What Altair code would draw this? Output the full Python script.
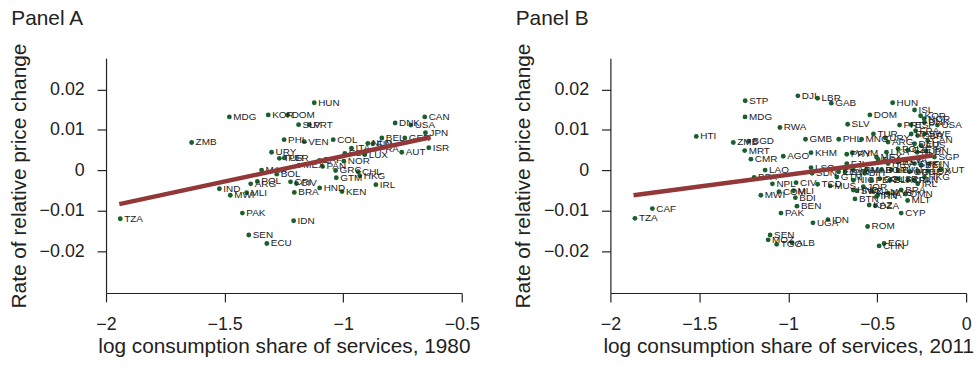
import altair as alt
import pandas as pd

FONT = "Liberation Sans"
GREEN = "#1b5e30"
RED = "#933838"

# ---------------- Panel A (1980) ----------------
a_code = ["TZA", "ZMB", "MDG", "KOR", "DOM", "HUN", "SLV", "PRT", "PHL", "VEN",
          "COL", "URY", "TUR", "PER", "MAR", "BOL", "MEX", "PAN", "ZAF", "ARG",
          "POL", "IND", "MWI", "MLI", "PAK", "SEN", "ECU", "CRI", "CIV", "BRA",
          "IDN", "HND", "KEN", "GTM", "GRC", "CHL", "HKG", "NOR", "LUX", "ITA",
          "ESP", "NLD", "FIN", "BEL", "FRA", "GER", "AUT", "ISR", "JPN", "CAN",
          "USA", "DNK", "IRL"]
a_x = [-1.940, -1.639, -1.480, -1.316, -1.234, -1.122, -1.188, -1.143, -1.249, -1.164,
       -1.042, -1.302, -1.269, -1.248, -1.344, -1.280, -1.185, -1.087, -1.100, -1.390,
       -1.362, -1.522, -1.476, -1.407, -1.425, -1.398, -1.322, -1.222, -1.197, -1.206,
       -1.209, -1.099, -1.005, -1.029, -1.032, -0.937, -0.930, -0.997, -0.909, -0.965,
       -0.993, -0.896, -0.875, -0.837, -0.865, -0.740, -0.753, -0.639, -0.653, -0.656,
       -0.715, -0.781, -0.862]
a_y = [-0.0119, 0.0069, 0.0132, 0.0137, 0.0137, 0.0167, 0.0113, 0.0113, 0.0076, 0.0071,
       0.0076, 0.0045, 0.0030, 0.0031, 0.0001, -0.0009, 0.0013, 0.0010, 0.0025, -0.0033,
       -0.0027, -0.0045, -0.0061, -0.0055, -0.0105, -0.0159, -0.0180, -0.0028, -0.0032, -0.0054,
       -0.0124, -0.0043, -0.0052, -0.0018, 0.0000, -0.0003, -0.0013, 0.0023, 0.0039, 0.0055,
       0.0042, 0.0067, 0.0066, 0.0080, 0.0052, 0.0080, 0.0045, 0.0056, 0.0093, 0.0132,
       0.0112, 0.0117, -0.0035]
a_fit_x = [-1.944, -0.631]
a_fit_y = [-0.0083, 0.0082]

# ---------------- Panel B (2011) ----------------
b_code = ["TZA", "CAF", "HTI", "ZMB", "BGD", "STP", "MDG", "MRT", "CMR", "LAO",
          "BFA", "NPL", "MWI", "COM", "MLI", "BDI", "BEN", "PAK", "SEN", "MOZ",
          "TGO", "ALB", "UGA", "IDN", "CIV", "AGO", "RWA", "DJI", "LBR", "GAB",
          "KHM", "GMB", "LSO", "SDN", "TCD", "MUS", "GTM", "FJI", "PRY", "VNM",
          "PHL", "SLV", "MNG", "TUR", "DOM", "HUN", "ISL", "KOR", "NOR", "PRT",
          "USA", "ESP", "MAR", "MEX", "LKA", "SGP", "HKG", "IRL", "AUT", "BRA",
          "OMN", "MLT", "CYP", "THA", "BTN", "DZA", "KAZ", "ROM", "ECU", "CHN",
          "DNK", "FRA", "ITA", "GBR", "SWE", "URY", "ARG", "POL", "DEU", "AUS",
          "CAN", "CZE", "NLD", "JPN", "BOL", "HRV", "EST", "LVA", "SVK", "BEL",
          "FIN", "BGR", "LTU", "SVN", "GRC", "CHE", "LUX", "PER", "COL", "BLR",
          "ISR", "CRI", "PAN", "NIC", "HND", "JOR", "MYS", "IRN", "EGY", "TUN",
          "ARM", "BIH", "SWZ", "NAM"]
b_x = [-1.862, -1.764, -1.517, -1.309, -1.223, -1.242, -1.243, -1.245, -1.210, -1.130,
       -1.192, -1.089, -1.154, -1.052, -0.970, -0.960, -0.951, -1.041, -1.102, -1.113,
       -1.065, -0.978, -0.861, -0.777, -0.956, -1.028, -1.047, -0.946, -0.835, -0.758,
       -0.872, -0.903, -0.872, -0.866, -0.835, -0.764, -0.727, -0.671, -0.671, -0.640,
       -0.716, -0.666, -0.588, -0.521, -0.541, -0.413, -0.290, -0.256, -0.236, -0.374,
       -0.161, -0.309, -0.560, -0.504, -0.448, -0.178, -0.234, -0.272, -0.142, -0.365,
       -0.340, -0.329, -0.365, -0.496, -0.625, -0.510, -0.545, -0.554, -0.461, -0.489,
       -0.234, -0.284, -0.309, -0.272, -0.234, -0.454, -0.439, -0.383, -0.290, -0.253,
       -0.216, -0.327, -0.275, -0.225, -0.495, -0.439, -0.383, -0.337, -0.290, -0.253,
       -0.206, -0.476, -0.420, -0.383, -0.318, -0.272, -0.216, -0.532, -0.486, -0.429,
       -0.383, -0.327, -0.290, -0.634, -0.634, -0.578, -0.439, -0.504, -0.717, -0.680,
       -0.634, -0.570, -0.615, -0.528]
b_y = [-0.0118, -0.0094, 0.0084, 0.0069, 0.0072, 0.0172, 0.0132, 0.0049, 0.0028, 0.0001,
       -0.0017, -0.0033, -0.0061, -0.0052, -0.0050, -0.0067, -0.0088, -0.0105, -0.0159, -0.0171,
       -0.0182, -0.0178, -0.0129, -0.0121, -0.0030, 0.0035, 0.0106, 0.0184, 0.0178, 0.0166,
       0.0044, 0.0077, 0.0007, -0.0007, -0.0034, -0.0038, -0.0016, 0.0017, 0.0040, 0.0044,
       0.0077, 0.0114, 0.0077, 0.0090, 0.0137, 0.0167, 0.0149, 0.0135, 0.0128, 0.0112,
       0.0112, 0.0113, 0.0002, 0.0033, 0.0045, 0.0033, -0.0016, -0.0033, 0.0002, -0.0048,
       -0.0058, -0.0074, -0.0105, -0.0060, -0.0070, -0.0087, -0.0085, -0.0138, -0.0180, -0.0186,
       0.0119, 0.0098, 0.0090, 0.0086, 0.0090, 0.0080, 0.0070, 0.0054, 0.0066, 0.0062,
       0.0074, 0.0050, 0.0045, 0.0048, 0.0027, 0.0017, 0.0021, 0.0025, 0.0017, 0.0013,
       0.0017, 0.0002, 0.0002, 0.0001, -0.0003, -0.0003, -0.0001, -0.0024, -0.0020, -0.0024,
       -0.0020, -0.0024, -0.0024, -0.0024, -0.0048, -0.0040, -0.0056, -0.0064, -0.0003, -0.0003,
       0.0001, -0.0007, -0.0050, -0.0052]
b_fit_x = [-1.870, -0.188]
b_fit_y = [-0.0061, 0.0037]

Y_DOMAIN = [-0.0302, 0.0277]
Y_TICKS = [-0.02, -0.01, 0, 0.01, 0.02]


def panel(codes, xs, ys, fx, fy, xdomain, xticks, xtitle, title):
    df = pd.DataFrame({"code": codes, "x": xs, "y": ys})
    fit = pd.DataFrame({"x": fx, "y": fy})
    xenc = alt.X("x:Q", scale=alt.Scale(domain=xdomain, nice=False, zero=False),
                 axis=alt.Axis(values=xticks, title=xtitle, format="~g", labelFlush=False))
    yenc = alt.Y("y:Q", scale=alt.Scale(domain=Y_DOMAIN, nice=False, zero=False),
                 axis=alt.Axis(values=Y_TICKS, title="Rate of relative price change", format="~g",
                               labelFlush=False))
    pts = alt.Chart(df).mark_circle(size=24, color=GREEN, opacity=1).encode(x=xenc, y=yenc)
    txt = alt.Chart(df).mark_text(align="left", baseline="middle", dx=4, fontSize=10,
                                  font=FONT, color="#222222").encode(x="x:Q", y="y:Q", text="code:N")
    line = alt.Chart(fit).mark_line(color=RED, strokeWidth=4.5).encode(x="x:Q", y="y:Q")
    return alt.layer(pts, txt, line).properties(
        width=359, height=237,
        title=alt.TitleParams(title, anchor="start", frame="bounds", fontSize=21, font=FONT,
                              fontWeight="normal", color="#222222", offset=14, dx=3),
    )


pa = panel(a_code, a_x, a_y, a_fit_x, a_fit_y, [-2, -0.5], [-2, -1.5, -1, -0.5],
           "log consumption share of services, 1980", "Panel A")
pb = panel(b_code, b_x, b_y, b_fit_x, b_fit_y, [-2, 0], [-2, -1.5, -1, -0.5, 0],
           "log consumption share of services, 2011", "Panel B")

chart = alt.hconcat(pa, pb, spacing=33).properties(
    padding={"left": 8, "top": 6, "right": 5, "bottom": 5}
).configure_view(stroke=None).configure_axis(
    grid=False, domainColor="#222222", tickColor="#222222", tickSize=9, domainWidth=1.2,
    tickWidth=1.2, labelFont=FONT, labelFontSize=18, labelColor="#222222",
    titleFont=FONT, titleFontSize=21, titleFontWeight="normal", titleColor="#222222",
).configure_axisX(
    labelPadding=14, titlePadding=2,
).configure_axisY(
    labelPadding=13, titlePadding=10,
)

chart.save("out.html", embed_options={"renderer": "svg", "actions": False})
